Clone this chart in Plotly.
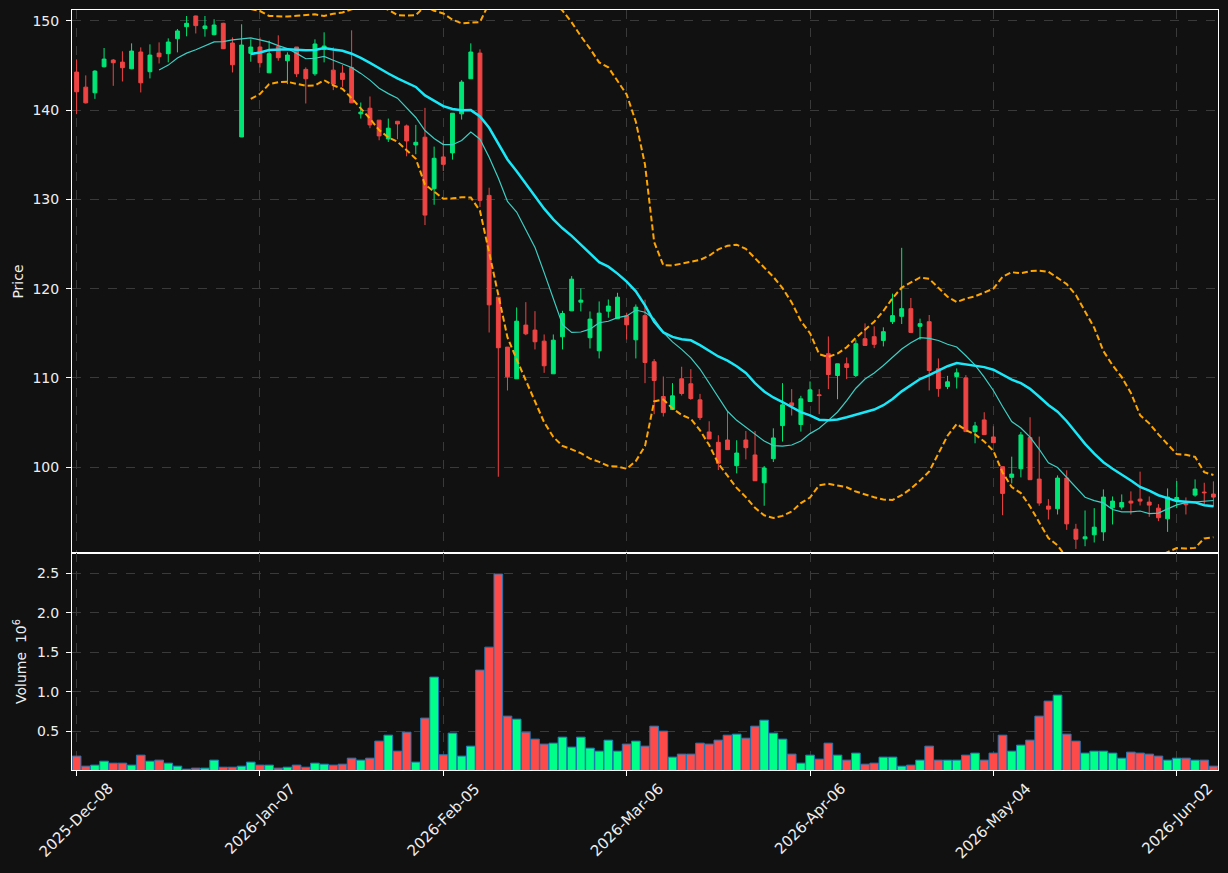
import pandas as pd
import plotly.graph_objects as go

# ---------------- data ----------------
holidays = ["2025-12-25", "2026-01-01", "2026-01-19", "2026-02-16", "2026-04-03", "2026-05-25"]
dates = pd.bdate_range("2025-12-08", periods=125, freq="C", holidays=holidays).strftime("%Y-%m-%d").tolist()

tick_labels = ["2025-Dec-08", "2026-Jan-07", "2026-Feb-05", "2026-Mar-06",
               "2026-Apr-06", "2026-May-04", "2026-Jun-02"]

open_ = [144.27, 142.58, 141.95, 144.87, 145.62, 145.39, 144.64, 146.52, 144.31, 146.40,
         146.33, 148.01, 149.36, 150.56, 149.14, 148.46, 149.74, 147.53, 137.00, 146.37,
         147.08, 144.19, 147.12, 145.54, 147.08, 144.57, 144.08, 146.82, 144.49, 144.16,
         144.79, 139.59, 140.22, 138.88, 136.78, 138.76, 138.24, 136.10, 136.97, 131.20,
         134.76, 135.21, 139.59, 143.52, 146.40, 130.45, 119.04, 113.44, 109.89, 115.91,
         115.35, 114.11, 110.45, 114.60, 117.51, 118.48, 114.49, 113.03, 117.47, 116.62,
         116.95, 114.26, 116.97, 111.80, 107.90, 106.44, 109.89, 109.33, 107.53, 103.93,
         102.77, 103.03, 100.15, 103.03, 101.35, 98.24, 100.94, 104.64, 107.19, 104.76,
         107.34, 108.09, 112.70, 110.26, 111.57, 110.26, 114.38, 114.61, 114.19, 116.29,
         116.89, 117.75, 115.77, 116.29, 111.01, 109.03, 110.15, 110.00, 103.97, 105.28,
         103.37, 100.04, 98.84, 99.81, 103.30, 98.65, 95.62, 95.32, 98.76, 93.03,
         91.95, 92.40, 92.73, 95.43, 95.51, 96.18, 96.40, 96.07, 95.39, 94.19,
         96.18, 96.03, 96.85, 97.19, 96.97]
high = [145.69, 143.90, 144.49, 146.97, 145.73, 146.60, 147.49, 147.04, 147.38, 147.60,
        148.05, 149.10, 150.56, 150.60, 150.56, 150.19, 149.80, 148.16, 149.63, 147.94,
        148.16, 147.79, 148.39, 146.48, 147.08, 144.79, 147.94, 148.73, 147.04, 145.06,
        148.95, 140.86, 141.54, 138.88, 139.06, 138.76, 138.39, 138.35, 140.26, 135.92,
        136.60, 139.66, 143.37, 147.49, 146.82, 131.31, 119.04, 113.44, 117.89, 118.48,
        117.47, 114.86, 114.86, 117.51, 121.40, 120.02, 117.44, 118.56, 118.78, 119.53,
        117.30, 118.22, 118.76, 112.10, 110.15, 109.40, 111.24, 110.97, 108.20, 105.13,
        103.56, 106.22, 103.00, 104.04, 104.04, 100.11, 104.34, 109.40, 108.73, 107.98,
        109.59, 108.73, 114.64, 111.57, 112.28, 114.27, 116.10, 115.77, 115.66, 119.44,
        124.57, 118.95, 116.63, 117.04, 112.17, 110.22, 111.05, 110.30, 105.06, 106.14,
        104.57, 100.04, 101.16, 103.93, 105.58, 103.41, 96.40, 99.06, 99.63, 93.63,
        95.13, 95.39, 97.49, 96.70, 96.93, 97.27, 99.48, 96.70, 95.84, 97.60,
        98.43, 96.59, 98.61, 98.24, 98.39]
low = [139.55, 140.75, 141.27, 144.80, 142.73, 143.22, 144.60, 141.99, 143.56, 145.24,
       145.36, 146.48, 148.28, 148.60, 148.24, 148.40, 146.85, 144.23, 137.00, 145.43,
       144.79, 144.19, 145.54, 142.92, 143.71, 140.75, 143.86, 145.36, 142.25, 142.62,
       140.82, 139.06, 137.98, 136.63, 136.44, 136.74, 134.83, 135.06, 127.12, 129.40,
       133.18, 134.46, 138.95, 143.52, 129.14, 115.08, 98.91, 108.58, 109.89, 114.78,
       113.18, 110.56, 110.45, 113.18, 117.51, 117.44, 113.29, 112.17, 116.73, 116.62,
       114.30, 112.17, 109.40, 105.92, 105.66, 106.44, 108.01, 107.53, 105.28, 103.15,
       99.66, 101.95, 99.29, 100.86, 98.46, 95.66, 100.56, 102.85, 105.77, 103.97,
       107.34, 105.92, 108.73, 107.60, 109.85, 110.07, 113.63, 113.33, 113.52, 116.03,
       116.03, 115.09, 114.27, 108.58, 107.87, 108.73, 108.80, 103.97, 102.66, 103.63,
       102.73, 94.60, 98.16, 98.84, 98.58, 95.66, 94.12, 94.68, 92.96, 90.82,
       91.12, 91.54, 91.72, 93.56, 95.24, 94.68, 95.69, 94.42, 93.93, 92.73,
       95.39, 94.68, 96.67, 95.84, 95.54]
close = [142.06, 140.82, 144.38, 145.73, 145.32, 144.76, 146.63, 143.07, 146.18, 145.99,
         147.64, 148.88, 149.74, 149.48, 149.44, 149.55, 146.89, 145.09, 147.30, 147.08,
         145.32, 146.33, 145.88, 146.18, 144.08, 143.52, 147.42, 147.19, 142.92, 143.45,
         140.82, 139.78, 138.35, 137.12, 137.98, 138.46, 136.55, 136.40, 128.24, 134.61,
         133.93, 139.66, 143.15, 146.52, 129.89, 118.18, 113.37, 110.12, 116.35, 114.93,
         114.04, 111.35, 114.22, 117.21, 121.06, 118.71, 116.58, 117.25, 118.04, 119.04,
         115.94, 117.92, 111.72, 109.70, 106.10, 107.98, 108.24, 107.68, 105.54, 103.15,
         100.41, 101.95, 101.57, 102.17, 98.46, 99.89, 103.26, 106.97, 106.89, 107.64,
         108.65, 108.01, 110.37, 111.57, 111.16, 113.82, 113.63, 113.75, 115.17, 116.97,
         117.75, 115.09, 116.07, 110.82, 108.80, 109.55, 110.56, 103.97, 104.61, 103.63,
         102.73, 97.04, 99.21, 103.60, 98.58, 95.96, 95.28, 98.76, 93.63, 91.91,
         92.17, 93.26, 96.63, 96.18, 96.03, 95.96, 96.18, 95.73, 94.31, 96.63,
         96.59, 95.77, 97.53, 97.12, 96.63]
# volume in millions
volume = [0.186, 0.059, 0.072, 0.122, 0.097, 0.097, 0.072, 0.198, 0.122, 0.135,
          0.097, 0.059, 0.021, 0.034, 0.034, 0.135, 0.046, 0.046, 0.059, 0.110,
          0.072, 0.072, 0.034, 0.046, 0.072, 0.046, 0.097, 0.084, 0.072, 0.084,
          0.160, 0.135, 0.160, 0.376, 0.451, 0.249, 0.489, 0.110, 0.667, 1.186,
          0.203, 0.477, 0.186, 0.312, 1.274, 1.565, 2.490, 0.692, 0.654, 0.489,
          0.401, 0.338, 0.350, 0.426, 0.300, 0.426, 0.287, 0.249, 0.388, 0.249,
          0.338, 0.376, 0.312, 0.565, 0.502, 0.173, 0.211, 0.211, 0.350, 0.338,
          0.388, 0.451, 0.464, 0.413, 0.565, 0.641, 0.477, 0.401, 0.211, 0.097,
          0.198, 0.148, 0.350, 0.198, 0.135, 0.224, 0.084, 0.097, 0.173, 0.173,
          0.059, 0.072, 0.135, 0.312, 0.135, 0.135, 0.135, 0.198, 0.224, 0.135,
          0.224, 0.451, 0.249, 0.325, 0.388, 0.692, 0.882, 0.958, 0.464, 0.376,
          0.224, 0.249, 0.249, 0.224, 0.160, 0.236, 0.224, 0.211, 0.186, 0.135,
          0.160, 0.160, 0.135, 0.135, 0.059]

# ---------------- indicators ----------------
cs = pd.Series(close)
ma10 = cs.rolling(10).mean()
ma20 = cs.rolling(20).mean()
sd20 = cs.rolling(20).std()
bb_up = ma20 + 2 * sd20
bb_lo = ma20 - 2 * sd20

UP, DN = "#00e676", "#ef4444"
VUP, VDN = "#00ff88", "#ff4a4a"
vol_colors = [VUP if c >= o else VDN for o, c in zip(open_, close)]

FONT = "DejaVu Sans"
TXT = "#eeeeee"
GRID = "#3a3a3a"

fig = go.Figure()
fig.add_trace(go.Candlestick(
    x=dates, open=open_, high=high, low=low, close=close,
    increasing=dict(line=dict(color=UP, width=1), fillcolor=UP),
    decreasing=dict(line=dict(color=DN, width=1), fillcolor=DN),
    whiskerwidth=0, showlegend=False, xaxis="x", yaxis="y", hoverinfo="skip"))
fig.add_trace(go.Scatter(x=dates, y=bb_up, mode="lines", showlegend=False,
                         line=dict(color="#ffa500", width=2, dash="6px,3px"), xaxis="x", yaxis="y"))
fig.add_trace(go.Scatter(x=dates, y=bb_lo, mode="lines", showlegend=False,
                         line=dict(color="#ffa500", width=2, dash="6px,3px"), xaxis="x", yaxis="y"))
fig.add_trace(go.Scatter(x=dates, y=ma10, mode="lines", showlegend=False,
                         line=dict(color="#3ecfc4", width=1.2), xaxis="x", yaxis="y"))
fig.add_trace(go.Scatter(x=dates, y=ma20, mode="lines", showlegend=False,
                         line=dict(color="#1ae8f8", width=2.5), xaxis="x", yaxis="y"))
fig.add_trace(go.Bar(x=dates, y=volume, showlegend=False, xaxis="x2", yaxis="y2",
                     marker=dict(color=vol_colors, line=dict(color="#1f77b4", width=1))))

tick_idx = list(range(0, 125, 20))
tickvals = [dates[i] for i in tick_idx]
common_x = dict(type="category", range=[-0.5, 124.5], tickvals=tickvals,
                showgrid=True, gridcolor=GRID, griddash="dash", gridwidth=1,
                showline=True, linecolor="white", linewidth=1, mirror=True, zeroline=False)
common_y = dict(showgrid=True, gridcolor=GRID, griddash="dash", gridwidth=1,
                showline=True, linecolor="white", linewidth=1, mirror=True, zeroline=False,
                ticks="outside", ticklen=5, tickcolor="white", ticklabelstandoff=4,
                tickfont=dict(family=FONT, size=14, color=TXT))

# rotated date labels centred under each tick (like matplotlib rotation=45, ha='center')
annotations = [dict(x=tv, y=0, xref="x2", yref="y2 domain", text=lab, showarrow=False,
                    textangle=-45, xanchor="center", yanchor="top", yshift=-7,
                    font=dict(family=FONT, size=15, color=TXT))
               for tv, lab in zip(tickvals, tick_labels)]

fig.update_layout(
    width=1228, height=873,
    margin=dict(l=72, r=10, t=10, b=103),
    paper_bgcolor="#111111", plot_bgcolor="#111111",
    font=dict(family=FONT, size=14, color=TXT),
    bargap=0.05, boxgap=0.4,
    annotations=annotations,
    xaxis=dict(common_x, domain=[0, 1], anchor="y", showticklabels=False, ticks="",
               rangeslider=dict(visible=False)),
    xaxis2=dict(common_x, domain=[0, 1], anchor="y2", matches="x", showticklabels=False,
                ticks="outside", ticklen=5, tickcolor="white"),
    yaxis=dict(common_y, domain=[0.2855, 1], range=[90.36, 151.23],
               tickvals=[100, 110, 120, 130, 140, 150],
               title=dict(text="Price", font=dict(family=FONT, size=14, color=TXT), standoff=5)),
    yaxis2=dict(common_y, domain=[0, 0.2855], range=[0.01, 2.756],
                tickvals=[0.5, 1.0, 1.5, 2.0, 2.5], ticktext=["0.5", "1.0", "1.5", "2.0", "2.5"],
                title=dict(text="Volume  10<sup>6</sup>", font=dict(family=FONT, size=14, color=TXT),
                           standoff=7)),
)

fig.write_html("out.html")
